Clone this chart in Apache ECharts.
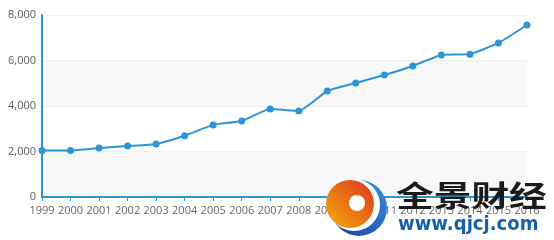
<!DOCTYPE html>
<html><head><meta charset="utf-8">
<script src="https://cdn.jsdelivr.net/npm/echarts@6/dist/echarts.min.js"></script>
<style>html,body{margin:0;padding:0;background:#fff}#c{width:554px;height:240px}</style>
</head><body><div id="c"></div>
<script>
const years = ['1999','2000','2001','2002','2003','2004','2005','2006','2007','2008','2009','2010','2011','2012','2013','2014','2015','2016'];
const values = [2040, 2040, 2150, 2240, 2330, 2690, 3170, 3340, 3870, 3780, 4660, 5010, 5360, 5760, 6240, 6280, 6770, 7560];
const yTicks = {min: 0, max: 8000, interval: 2000};
const brandName = '全景财经';
const brandUrl = 'www.qjcj.com';

const chart = echarts.init(document.getElementById('c'), null, {renderer: 'canvas'});
const blue = '#2b96d6';
chart.setOption({
  animation: false,
  grid: {left: 42, right: 27, top: 15, bottom: 43, containLabel: false},
  xAxis: {
    type: 'category', data: years, boundaryGap: false,
    axisLine: {lineStyle: {color: blue, width: 2}},
    axisTick: {show: true, length: 4, lineStyle: {color: blue}},
    axisLabel: {color: '#666', fontSize: 11, fontFamily: 'Open Sans', margin: 8, interval: 0}
  },
  yAxis: {
    type: 'value', min: yTicks.min, max: yTicks.max, interval: yTicks.interval,
    axisLine: {show: true, lineStyle: {color: blue, width: 2}},
    axisTick: {show: false},
    axisLabel: {color: '#5a5a5a', fontSize: 11, fontFamily: 'Open Sans', margin: 6,
      formatter: v => v.toLocaleString('en-US')},
    splitLine: {show: true, lineStyle: {color: '#f0f0f0'}},
    splitArea: {show: true, areaStyle: {color: ['#f8f8f8', '#ffffff']}}
  },
  series: [{
    type: 'line', data: values, smooth: 0.15,
    symbol: 'circle', symbolSize: 7,
    lineStyle: {color: blue, width: 2},
    itemStyle: {color: blue}
  }],
  graphic: [
    {type: 'circle', shape: {cx: 359, cy: 208, r: 28},
      style: {fill: new echarts.graphic.LinearGradient(1, 0, 0, 1, [{offset: 0, color: '#3a8fe0'}, {offset: 1, color: '#1a3f9a'}])}, z: 100},
    {type: 'circle', shape: {cx: 354, cy: 205, r: 26}, style: {fill: '#ffffff'}, z: 100},
    {type: 'circle', shape: {cx: 350, cy: 204, r: 24},
      style: {fill: new echarts.graphic.LinearGradient(1, 0, 0, 1, [{offset: 0, color: '#dc3422'}, {offset: 1, color: '#f6ad08'}])}, z: 101},
    {type: 'circle', shape: {cx: 357, cy: 203, r: 8}, style: {fill: '#ffffff'}, z: 102},
    {type: 'text', x: 396, y: 181, scaleX: 1.3, z: 103,
      style: {text: brandName, fontSize: 29, fontWeight: 'bold', fill: '#1a1a1a', fontFamily: 'Noto Sans CJK SC'}},
    {type: 'text', x: 398, y: 216, scaleX: 0.95, z: 103,
      style: {text: brandUrl, fontSize: 19, fontWeight: 'bold', fill: '#1660aa', fontFamily: 'DejaVu Sans'}}
  ]
});
</script></body></html>
